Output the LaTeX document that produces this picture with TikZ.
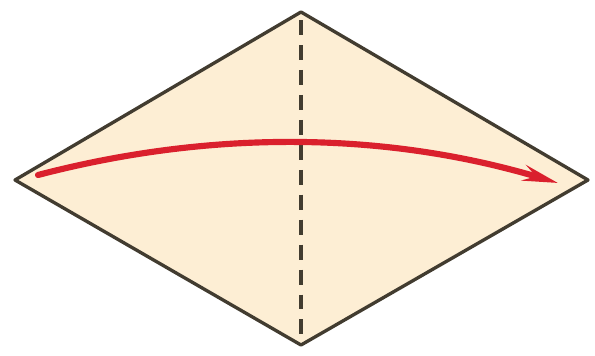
\documentclass[tikz,border=0pt]{standalone}
\usetikzlibrary{arrows.meta}
\definecolor{paper}{RGB}{253,238,212}
\definecolor{creaseline}{RGB}{66,60,48}
\definecolor{foldarrow}{RGB}{218,32,45}
\tikzset{edge/.style={creaseline,line width=1.9pt,line join=round},
 valley/.style={creaseline,line width=2.6pt,dash pattern=on 8.5pt off 5.7pt,dash phase=9.6pt},
 turn/.style={-{Stealth[length=20pt,width=9pt,inset=7pt]},foldarrow,line width=3.5pt,line cap=round}}

\begin{document}
\begin{tikzpicture}[x=0.02cm,y=-0.02cm]
\useasboundingbox (0,0) rectangle (595,355);
\coordinate (L) at (15,180);
\coordinate (T) at (301,12);
\coordinate (R) at (588,180);
\coordinate (B) at (301,345);
\coordinate (S) at (38,175);
\coordinate (E) at (558,183);
\filldraw[edge,fill=paper] (L)--(T)--(R)--(B)--cycle;
\draw[valley] (T)--(B);
\draw[turn] (S) .. controls (214,129) and (387,132) .. (E);
\end{tikzpicture}
\end{document}
